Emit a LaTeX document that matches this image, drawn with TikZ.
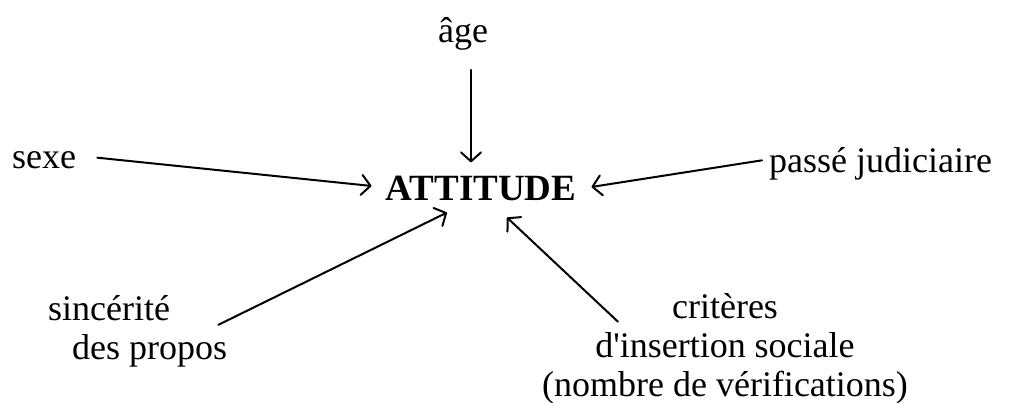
\documentclass[tikz,border=0pt]{standalone}
\usepackage{fontspec}
\setmainfont{Liberation Serif}[Ligatures=TeXOff]
\usetikzlibrary{arrows.meta, calc}

\begin{document}
\begin{tikzpicture}[
  x=1pt, y=-1pt,
  factor/.style={inner sep=0pt, font=\fontsize{36}{39}\selectfont},
  core/.style={inner sep=0pt, font=\fontsize{37}{40}\selectfont\bfseries},
  arrow/.style={-{Straight Barb[length=9pt, width=20pt, round]},
                line width=2pt, line cap=round}
]
  \useasboundingbox (0,0) rectangle (1012,402);

  \node[core, anchor=base] (attitude) at (481,200) {ATTITUDE};
  \node[factor, anchor=base] (age) at (463,42) {âge};
  \node[factor, anchor=base west] (sexe) at (12,168) {sexe};
  \node[factor, anchor=base west] (passe) at (769,172) {passé judiciaire};
  % last line sits on the given base
  \node[factor, anchor=base west, align=left] (sincerite) at (48,359)
    {sincérité\\\hspace*{24pt}des propos};
  \node[factor, anchor=base, align=center] (criteres) at (725,396)
    {critères\\d'insertion sociale\\(nombre de vérifications)};

  \draw[arrow] ($(age.south)+(8,20)$) -- ($(attitude.north)+(-10,-13)$);
  \draw[arrow] ($(sexe.east)+(21,-2)$) -- ($(attitude.west)+(-14,-2)$);
  \draw[arrow] ($(passe.west)+(-7,-3)$) -- ($(attitude.east)+(15,-1)$);
  \draw[arrow] ($(sincerite.east)+(-9,-6)$) -- ($(attitude.south)+(-34,12)$);
  \draw[arrow] ($(criteres.north)+(-107,29)$) -- ($(attitude.south)+(26,17)$);
\end{tikzpicture}
\end{document}
